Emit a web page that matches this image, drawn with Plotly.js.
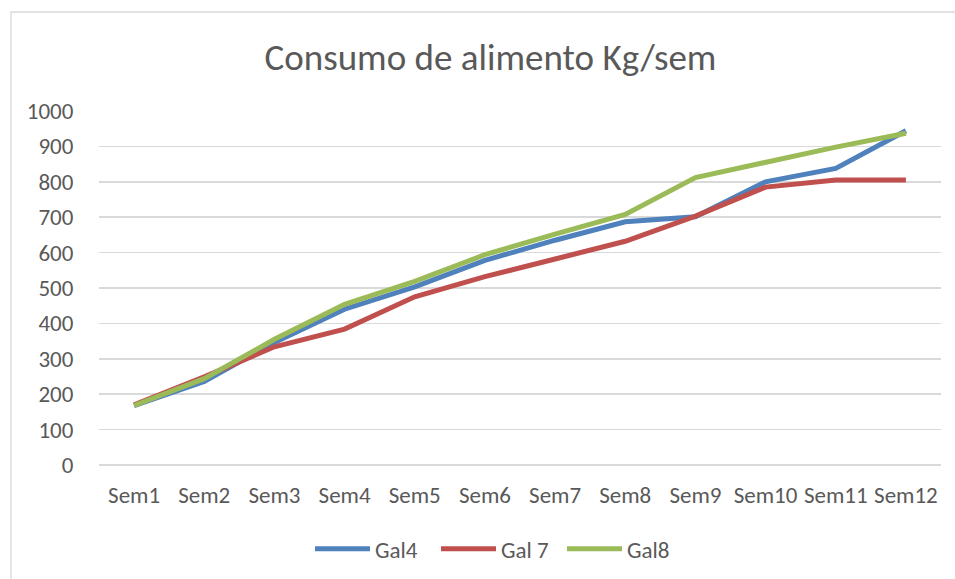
<!DOCTYPE html>
<html>
<head>
<meta charset="utf-8">
<script src="https://cdn.plot.ly/plotly-3.0.1.min.js"></script>
<style>
html,body{margin:0;padding:0;background:#fff;}
#chart{width:955px;height:579px;}
</style>
</head>
<body>
<div id="chart"></div>
<script>
var weeks = ["Sem1","Sem2","Sem3","Sem4","Sem5","Sem6","Sem7","Sem8","Sem9","Sem10","Sem11","Sem12"];
var gal4 = [168, 236, 346, 440, 503, 578, 635, 687, 701, 800, 838, 944];
var gal7 = [170, 249, 334, 384, 475, 532, 582, 632, 703, 785, 805, 805];
var gal8 = [168, 244, 355, 454, 519, 594, 652, 708, 812, 856, 898, 937];
var seriesNames = ["Gal4", "Gal 7", "Gal8"];
var yTicks = [0,100,200,300,400,500,600,700,800,900,1000];

var font = "Carlito, Calibri, Lato, 'Open Sans', sans-serif";
var colors = ["#4F81BD", "#C0504D", "#9BBB59"];
var series = [gal4, gal7, gal8];

var traces = series.map(function(s, i){
  return {
    type: "scatter",
    mode: "lines",
    x: weeks,
    y: s,
    name: seriesNames[i],
    line: {color: colors[i], width: 5, shape: "linear"},
    hoverinfo: "none"
  };
});

var layout = {
  width: 955,
  height: 579,
  paper_bgcolor: "#ffffff",
  plot_bgcolor: "#ffffff",
  margin: {l: 99, r: 14, t: 111, b: 114, autoexpand: false},
  font: {family: font, color: "#595959", size: 23},
  title: {
    text: "Consumo de alimento Kg/sem",
    font: {family: font, size: 37, color: "#595959"},
    xref: "container", yref: "container",
    x: 0.5136, xanchor: "center",
    y: 0.9016, yanchor: "middle"
  },
  xaxis: {
    type: "category",
    range: [-0.5, 11.5],
    showgrid: false,
    showline: false,
    zeroline: false,
    ticks: "outside",
    ticklen: 9,
    tickcolor: "rgba(0,0,0,0)",
    tickfont: {family: font, size: 23, color: "#595959"},
    fixedrange: true
  },
  yaxis: {
    range: [0, 1000],
    tickvals: yTicks,
    ticktext: yTicks.map(String),
    showgrid: true,
    gridcolor: "#d9d9d9",
    gridwidth: 1.7,
    zeroline: true,
    zerolinecolor: "#d9d9d9",
    zerolinewidth: 1.7,
    showline: false,
    ticks: "outside",
    ticklen: 20,
    tickcolor: "rgba(0,0,0,0)",
    tickfont: {family: font, size: 23, color: "#595959"},
    fixedrange: true
  },
  showlegend: true,
  legend: {
    orientation: "h",
    x: 0.2506, xanchor: "left",
    y: -0.237, yanchor: "middle",
    font: {family: font, size: 23, color: "#595959"},
    itemwidth: 55,
    entrywidth: 56,
    entrywidthmode: "pixels",
    bgcolor: "rgba(0,0,0,0)"
  },
  shapes: [{
    type: "rect",
    xref: "paper", yref: "paper",
    x0: (11-99)/842, x1: 1.2,
    y0: -0.5, y1: (465-12)/354,
    line: {color: "#d9d9d9", width: 1.3},
    fillcolor: "rgba(0,0,0,0)",
    layer: "below"
  }]
};

Plotly.newPlot("chart", traces, layout, {displayModeBar: false, staticPlot: true});
</script>
</body>
</html>
